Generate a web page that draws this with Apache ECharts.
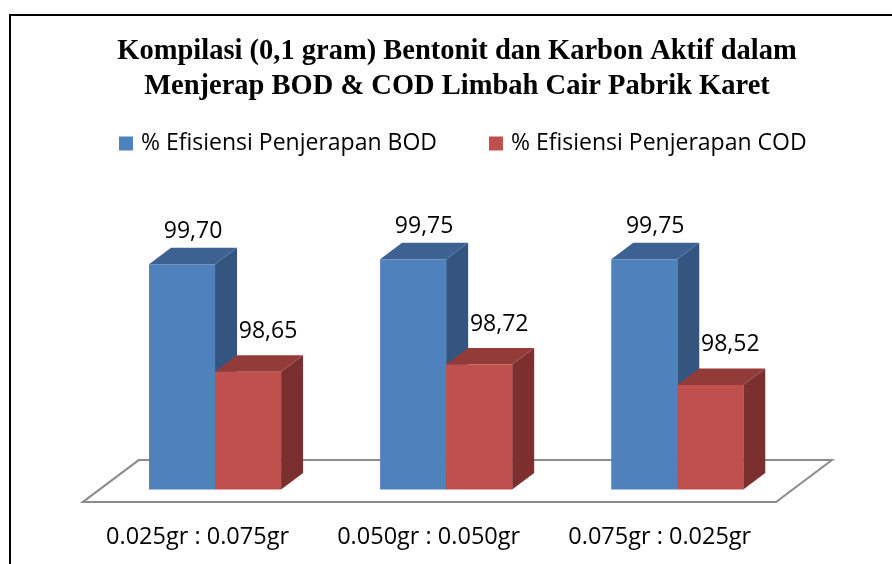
<!DOCTYPE html>
<html>
<head>
<meta charset="utf-8">
<script src="https://cdn.jsdelivr.net/npm/echarts@6/dist/echarts.min.js"></script>
<style>
  html, body { margin: 0; padding: 0; background: #fff; }
  #chart { width: 892px; height: 564px; }
</style>
</head>
<body>
<div id="chart"></div>
<script>
// ---- data ----
var categories = ['0.025gr : 0.075gr', '0.050gr : 0.050gr', '0.075gr : 0.025gr'];
var seriesNames = ['% Efisiensi Penjerapan BOD', '% Efisiensi Penjerapan COD'];
var bodValues = [99.70, 99.75, 99.75];
var codValues = [98.65, 98.72, 98.52];
var titleText = 'Kompilasi (0,1 gram) Bentonit dan Karbon Aktif dalam\nMenjerap BOD & COD Limbah Cair Pabrik Karet';
var yMin = 97.5, yMax = 100;

// ---- styling ----
var palette = [
  { front: '#4F81BD', top: '#3D6291', side: '#34557F', labelDx: 0, labelDy: 16 },
  { front: '#C0504D', top: '#933B39', side: '#7B302F', labelDx: 9, labelDy: 24 }
];
var DEPTH_X = 22, DEPTH_Y = -16.5;
var FONT = "'Open Sans', sans-serif";

function fmt(v) { return v.toFixed(2).replace('.', ','); }

function barRenderer(sIdx) {
  var pal = palette[sIdx];
  return function (params, api) {
    var cat = api.value(0), val = api.value(1);
    var top = api.coord([cat, val]);
    var base = api.coord([cat, yMin]);
    var bw = api.size([1, 0])[0];
    var w = bw * 0.2857;
    var x0 = sIdx === 0 ? top[0] - w : top[0];
    var x1 = x0 + w;
    var yT = top[1], yB = base[1];
    var dx = DEPTH_X, dy = DEPTH_Y;
    return {
      type: 'group',
      children: [
        { type: 'polygon', shape: { points: [[x1, yB], [x1 + dx, yB + dy], [x1 + dx, yT + dy], [x1, yT]] },
          style: { fill: pal.side } },
        { type: 'polygon', shape: { points: [[x0, yT], [x0 + dx, yT + dy], [x1 + dx, yT + dy], [x1, yT]] },
          style: { fill: pal.top } },
        { type: 'rect', shape: { x: x0, y: yT, width: w, height: yB - yT },
          style: { fill: pal.front } },
        { type: 'text', x: (x0 + x1) / 2 + dx / 2 + pal.labelDx, y: yT + dy - pal.labelDy,
          style: { text: fmt(val), fill: '#000', font: '23px ' + FONT, align: 'center', verticalAlign: 'middle' } }
      ]
    };
  };
}

function floorRenderer(params, api) {
  var first = api.coord([0, yMin]);
  var last = api.coord([categories.length - 1, yMin]);
  var bw = api.size([1, 0])[0];
  var xl = first[0] - bw / 2, xr = last[0] + bw / 2, y = first[1];
  var fdx = -16.8, fdy = 12.6, bdx = 39.2, bdy = -29.4;
  return {
    type: 'polygon',
    shape: { points: [[xl + fdx, y + fdy], [xr + fdx, y + fdy], [xr + bdx, y + bdy], [xl + bdx, y + bdy]] },
    style: { fill: '#fff', stroke: '#8C8C8C', lineWidth: 2 }
  };
}

var chart = echarts.init(document.getElementById('chart'), null, { renderer: 'canvas' });
chart.setOption({
  animation: false,
  backgroundColor: '#fff',
  title: {
    text: titleText,
    left: 457, top: 34, padding: 0, textAlign: 'center',
    textStyle: { fontFamily: "'Liberation Serif', serif", fontWeight: 'bold', fontSize: 28.5, lineHeight: 35, color: '#000' }
  },
  legend: {
    data: seriesNames,
    left: 119, top: 132, padding: 0,
    icon: 'rect', itemWidth: 14, itemHeight: 14, itemGap: 52,
    textStyle: { fontFamily: FONT, fontSize: 23, color: '#000', padding: [0, 0, 0, 3] }
  },
  graphic: [{
    type: 'rect', shape: { x: 10, y: 15, width: 900, height: 600 },
    style: { fill: 'none', stroke: '#000', lineWidth: 2 }, z: 100
  }],
  grid: { left: 99.5, right: 99.2, top: 233.6, bottom: 74.5 },
  xAxis: {
    type: 'category', data: categories,
    axisLine: { show: false }, axisTick: { show: false }, splitLine: { show: false },
    axisLabel: { interval: 0, hideOverlap: false, fontFamily: FONT, fontSize: 23.5, color: '#000', margin: 36, lineHeight: 24, padding: [0, 35, 0, 0] }
  },
  yAxis: { type: 'value', min: yMin, max: yMax, show: false },
  series: [
    { type: 'custom', name: 'floor', renderItem: floorRenderer, data: [[0, yMin]], z: 1, silent: true },
    { type: 'custom', name: seriesNames[0], itemStyle: { color: palette[0].front }, renderItem: barRenderer(0),
      data: bodValues.map(function (v, i) { return [i, v]; }), z: 2 },
    { type: 'custom', name: seriesNames[1], itemStyle: { color: palette[1].front }, renderItem: barRenderer(1),
      data: codValues.map(function (v, i) { return [i, v]; }), z: 3 }
  ]
});
</script>
</body>
</html>
